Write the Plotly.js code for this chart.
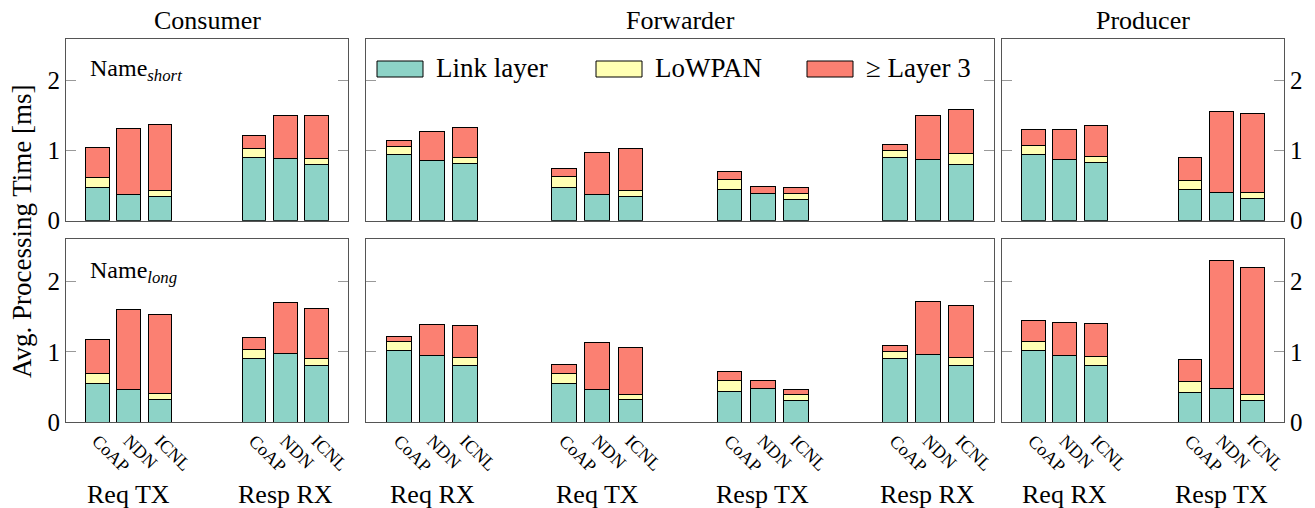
<!DOCTYPE html>
<html><head><meta charset="utf-8">
<script src="https://cdn.plot.ly/plotly-3.0.1.min.js"></script>
<style>html,body{margin:0;padding:0;background:#fff}#chart{width:1315px;height:508px}</style>
</head><body><div id="chart"></div>
<script>
// ---- data ----
const protocols = ['CoAP', 'NDN', 'ICNL'];
const consumerGroups = ['Req TX', 'Resp RX'];
const forwarderGroups = ['Req RX', 'Req TX', 'Resp TX', 'Resp RX'];
const producerGroups = ['Req RX', 'Resp TX'];
const layerNames = ['Link layer', 'LoWPAN', '\u2265 Layer 3'];
const panelTitles = ['Consumer', 'Forwarder', 'Producer'];

// Name_short
const consShortLink   = [0.48, 0.37, 0.35, 0.91, 0.89, 0.80];
const consShortLowpan = [0.14, 0.00, 0.08, 0.12, 0.00, 0.09];
const consShortL3     = [0.42, 0.95, 0.95, 0.19, 0.61, 0.62];
const fwdShortLink    = [0.95, 0.86, 0.82, 0.48, 0.37, 0.34, 0.44, 0.39, 0.31, 0.90, 0.88, 0.80];
const fwdShortLowpan  = [0.11, 0.00, 0.09, 0.15, 0.00, 0.09, 0.15, 0.00, 0.08, 0.11, 0.00, 0.16];
const fwdShortL3      = [0.08, 0.41, 0.42, 0.12, 0.60, 0.60, 0.12, 0.10, 0.09, 0.08, 0.63, 0.63];
const prodShortLink   = [0.95, 0.87, 0.83, 0.44, 0.40, 0.32];
const prodShortLowpan = [0.12, 0.00, 0.09, 0.14, 0.00, 0.08];
const prodShortL3     = [0.24, 0.43, 0.44, 0.32, 1.16, 1.13];
// Name_long
const consLongLink    = [0.55, 0.46, 0.33, 0.91, 0.98, 0.80];
const consLongLowpan  = [0.14, 0.00, 0.08, 0.12, 0.00, 0.10];
const consLongL3      = [0.48, 1.14, 1.12, 0.18, 0.72, 0.71];
const fwdLongLink     = [1.02, 0.95, 0.81, 0.55, 0.46, 0.32, 0.44, 0.48, 0.31, 0.90, 0.97, 0.80];
const fwdLongLowpan   = [0.13, 0.00, 0.11, 0.15, 0.00, 0.08, 0.15, 0.00, 0.08, 0.11, 0.00, 0.12];
const fwdLongL3       = [0.07, 0.44, 0.45, 0.12, 0.68, 0.66, 0.13, 0.11, 0.08, 0.08, 0.75, 0.74];
const prodLongLink    = [1.02, 0.95, 0.81, 0.43, 0.48, 0.31];
const prodLongLowpan  = [0.13, 0.00, 0.12, 0.15, 0.00, 0.09];
const prodLongL3      = [0.30, 0.47, 0.47, 0.31, 1.82, 1.80];

// ---- build ----
const colors = ['#8dd3c7', '#ffffb3', '#fb8072'];
const FONT = 'Liberation Serif';
const W = 1315, H = 508;
const px = v => v / W, py = v => 1 - v / H;

const panels = [
  {groups: consumerGroups,  segs: [consShortLink, consShortLowpan, consShortL3], col: 0, row: 0},
  {groups: forwarderGroups, segs: [fwdShortLink, fwdShortLowpan, fwdShortL3],    col: 1, row: 0},
  {groups: producerGroups,  segs: [prodShortLink, prodShortLowpan, prodShortL3], col: 2, row: 0},
  {groups: consumerGroups,  segs: [consLongLink, consLongLowpan, consLongL3],    col: 0, row: 1},
  {groups: forwarderGroups, segs: [fwdLongLink, fwdLongLowpan, fwdLongL3],       col: 1, row: 1},
  {groups: producerGroups,  segs: [prodLongLink, prodLongLowpan, prodLongL3],    col: 2, row: 1},
];
const colDomains = [[px(66), px(348)], [px(366), px(994)], [px(1002), px(1284)]];
const rowDomains = [[py(220.7), py(38.7)], [py(422.3), py(239.3)]];

const traces = [];
const layout = {
  width: W, height: H, margin: {l: 0, r: 0, t: 0, b: 0},
  paper_bgcolor: '#fff', plot_bgcolor: '#fff',
  barmode: 'stack', showlegend: false,
  font: {family: FONT, color: '#000'},
  annotations: [], shapes: []
};

panels.forEach((p, k) => {
  const n = k + 1;
  const xa = n === 1 ? 'x' : 'x' + n, ya = n === 1 ? 'y' : 'y' + n;
  const xs = [], tv = [], tt = [];
  p.groups.forEach((g, gi) => protocols.forEach((pr, i) => {
    xs.push(gi * 5 + i); tv.push(gi * 5 + i); tt.push(pr);
  }));
  p.segs.forEach((vals, li) => {
    traces.push({
      type: 'bar', x: xs, y: vals, xaxis: xa, yaxis: ya, width: 0.75,
      name: layerNames[li],
      marker: {color: colors[li], line: {color: '#000', width: 1}},
      hoverinfo: 'y+name'
    });
  });
  const nG = p.groups.length;
  layout['xaxis' + (n === 1 ? '' : n)] = {
    domain: colDomains[p.col], anchor: ya,
    range: [-1, nG * 5 - 2], showgrid: false, zeroline: false,
    showline: true, mirror: true, linecolor: '#555', linewidth: 1,
    ticks: '', tickvals: tv, ticktext: tt, tickangle: 45,
    showticklabels: p.row === 1,
    tickfont: {family: FONT, size: 18, color: '#000'}
  };
  layout['yaxis' + (n === 1 ? '' : n)] = {
    domain: rowDomains[p.row], anchor: xa,
    range: [0, 2.6], showgrid: false, zeroline: false,
    showline: true, mirror: 'ticks', linecolor: '#555', linewidth: 1,
    ticks: 'inside', ticklen: 10, tickcolor: '#999', tickwidth: 1,
    tickvals: [0, 1, 2], ticktext: ['0', '1', '2'],
    showticklabels: p.col !== 1,
    side: p.col === 2 ? 'right' : 'left',
    tickfont: {family: FONT, size: 25, color: '#000'}
  };
  if (p.row === 1) {
    p.groups.forEach((g, gi) => {
      layout.annotations.push({
        text: g, xref: xa, yref: 'paper', x: gi * 5 + 1, y: py(494),
        xanchor: 'center', yanchor: 'middle', showarrow: false,
        font: {family: FONT, size: 26, color: '#000'}
      });
    });
  }
});

// panel titles
panelTitles.forEach((t, i) => {
  layout.annotations.push({
    text: t, xref: 'paper', yref: 'paper',
    x: (colDomains[i][0] + colDomains[i][1]) / 2, y: py(20),
    xanchor: 'center', yanchor: 'middle', showarrow: false,
    font: {family: FONT, size: 26, color: '#000'}
  });
});
// row labels
layout.annotations.push({text: 'Name<sub><i>short</i></sub>', xref: 'paper', yref: 'paper',
  x: px(88), y: py(70), xanchor: 'left', yanchor: 'middle', showarrow: false,
  font: {family: FONT, size: 24, color: '#000'}});
layout.annotations.push({text: 'Name<sub><i>long</i></sub>', xref: 'paper', yref: 'paper',
  x: px(88), y: py(272), xanchor: 'left', yanchor: 'middle', showarrow: false,
  font: {family: FONT, size: 24, color: '#000'}});
// y title
layout.annotations.push({text: 'Avg. Processing Time [ms]', xref: 'paper', yref: 'paper',
  x: px(22), y: py(231), xanchor: 'center', yanchor: 'middle', textangle: -90, showarrow: false,
  font: {family: FONT, size: 27, color: '#000'}});

// legend (drawn in the Forwarder top panel)
const legX = [377, 596, 807];
const legTextX = [434, 653, 864];
layerNames.forEach((nm, i) => {
  layout.shapes.push({type: 'rect', xref: 'paper', yref: 'paper',
    x0: px(legX[i]), x1: px(legX[i] + 46), y0: py(77), y1: py(61),
    fillcolor: colors[i], line: {color: '#000', width: 1}});
  layout.annotations.push({text: nm, xref: 'paper', yref: 'paper',
    x: px(legTextX[i]), y: py(68), xanchor: 'left', yanchor: 'middle', showarrow: false,
    font: {family: FONT, size: 27, color: '#000'}});
});

Plotly.newPlot('chart', traces, layout, {staticPlot: true, displayModeBar: false});
</script></body></html>
